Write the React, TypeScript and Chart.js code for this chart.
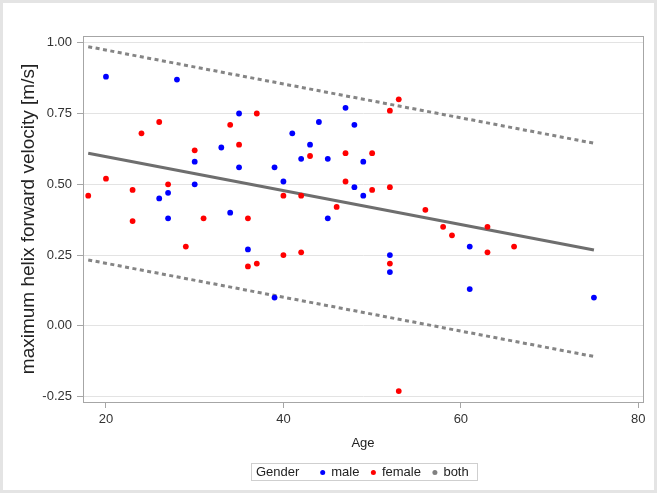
import React, { useEffect, useRef } from "react";
import { Chart, registerables } from "chart.js";

Chart.register(...registerables);

// ---- data ----
const maleAge = [20, 28, 35, 33, 30, 35, 30, 26, 27, 27, 34, 36, 39, 47, 44, 48, 41, 43, 42, 45, 49, 39, 40, 48, 49, 45, 52, 52, 61, 61, 75];
const maleVel = [0.88, 0.87, 0.75, 0.63, 0.58, 0.56, 0.50, 0.45, 0.47, 0.38, 0.40, 0.27, 0.10, 0.77, 0.72, 0.71, 0.68, 0.64, 0.59, 0.59, 0.58, 0.56, 0.51, 0.49, 0.46, 0.38, 0.25, 0.19, 0.28, 0.13, 0.10];

const femaleAge = [18, 20, 23, 23, 24, 26, 27, 29, 30, 31, 34, 35, 36, 36, 37, 37, 40, 40, 42, 42, 43, 46, 47, 47, 50, 50, 52, 52, 52, 53, 53, 56, 58, 59, 63, 63, 66];
const femaleVel = [0.46, 0.52, 0.48, 0.37, 0.68, 0.72, 0.50, 0.28, 0.62, 0.38, 0.71, 0.64, 0.38, 0.21, 0.75, 0.22, 0.46, 0.25, 0.46, 0.26, 0.60, 0.42, 0.61, 0.51, 0.61, 0.48, 0.76, 0.49, 0.22, 0.80, -0.23, 0.41, 0.35, 0.32, 0.35, 0.26, 0.28];

// regression (both genders) and prediction limits, at the line end ages
const fitAge = [18, 75];
const fitVel = [0.61, 0.268];
const upperVel = [0.986, 0.645];
const lowerVel = [0.233, -0.108];

const xTicks = [20, 40, 60, 80];
const yTicks = [-0.25, 0, 0.25, 0.5, 0.75, 1.0];
const yTickLabels = ["-0.25", "0.00", "0.25", "0.50", "0.75", "1.00"];

const legendTitle = "Gender";
const legendItems = [
  { label: "male", color: "#0000ff" },
  { label: "female", color: "#ff0000" },
  { label: "both", color: "#808080" },
];

const FONT = "'Liberation Sans', Arial, sans-serif";

const pts = (xs: number[], ys: number[]) => xs.map((x, i) => ({ x, y: ys[i] }));

export default function App() {
  const ref = useRef<HTMLCanvasElement | null>(null);

  useEffect(() => {
    if (!ref.current) return;

    const framePlugin = {
      id: "frame",
      beforeDraw(chart: any) {
        const { ctx, width, height } = chart;
        ctx.save();
        ctx.fillStyle = "#ffffff";
        ctx.fillRect(0, 0, width, height);
        ctx.restore();
      },
      afterDraw(chart: any) {
        const { ctx, width, height, chartArea } = chart;
        ctx.save();
        // outer light frame
        ctx.strokeStyle = "#e4e4e4";
        ctx.lineWidth = 3;
        ctx.strokeRect(1.5, 1.5, width - 3, height - 3);
        // plot box
        ctx.strokeStyle = "#a6a6a6";
        ctx.lineWidth = 1;
        ctx.strokeRect(
          Math.round(chartArea.left) + 0.5,
          Math.round(chartArea.top) + 0.5,
          Math.round(chartArea.right - chartArea.left),
          Math.round(chartArea.bottom - chartArea.top)
        );
        // legend
        const lx = 251, ly = 463, lw = 226, lh = 17;
        ctx.strokeStyle = "#cfcfcf";
        ctx.strokeRect(lx + 0.5, ly + 0.5, lw, lh);
        ctx.font = `13px ${FONT}`;
        ctx.fillStyle = "#222";
        ctx.textBaseline = "middle";
        ctx.textAlign = "left";
        const cy = ly + lh / 2 + 1;
        ctx.fillText(legendTitle, 256, cy);
        let x = 322.7;
        legendItems.forEach((it) => {
          ctx.beginPath();
          ctx.fillStyle = it.color;
          ctx.arc(x, cy, 2.5, 0, Math.PI * 2);
          ctx.fill();
          ctx.fillStyle = "#222";
          ctx.fillText(it.label, x + 8.5, cy);
          x += 8.5 + ctx.measureText(it.label).width + 14;
        });
        ctx.restore();
      },
    };

    const chart = new Chart(ref.current, {
      type: "scatter",
      data: {
        datasets: [
          {
            label: "male",
            data: pts(maleAge, maleVel),
            backgroundColor: "#0000ff",
            borderWidth: 0,
            pointRadius: 2.9,
          },
          {
            label: "female",
            data: pts(femaleAge, femaleVel),
            backgroundColor: "#ff0000",
            borderWidth: 0,
            pointRadius: 2.9,
          },
          {
            label: "fit",
            data: pts(fitAge, fitVel),
            showLine: true,
            borderColor: "#6e6e6e",
            borderWidth: 3,
            pointRadius: 0,
            fill: false,
          },
          {
            label: "upper",
            data: pts(fitAge, upperVel),
            showLine: true,
            borderColor: "#858585",
            borderWidth: 3,
            borderDash: [4, 3.5],
            pointRadius: 0,
            fill: false,
          },
          {
            label: "lower",
            data: pts(fitAge, lowerVel),
            showLine: true,
            borderColor: "#858585",
            borderWidth: 3,
            borderDash: [4, 3.5],
            pointRadius: 0,
            fill: false,
          },
        ],
      },
      options: {
        responsive: false,
        animation: false,
        devicePixelRatio: 1,
        layout: { padding: { left: 0, top: 36, right: 14, bottom: 0 } },
        plugins: {
          legend: { display: false },
          tooltip: { enabled: false },
        },
        scales: {
          x: {
            type: "linear",
            position: "bottom",
            min: 17.41,
            max: 80.53,
            afterBuildTicks: (s: any) => {
              s.ticks = xTicks.map((v) => ({ value: v }));
            },
            afterFit: (s: any) => {
              s.height = 91;
            },
            ticks: {
              font: { family: FONT, size: 13 },
              color: "#333",
              padding: 4,
              maxRotation: 0,
              autoSkip: false,
            },
            grid: {
              drawOnChartArea: false,
              drawTicks: true,
              tickLength: 6,
              tickColor: "#a6a6a6",
            },
            border: { display: true, color: "#a6a6a6" },
            title: {
              display: true,
              text: "Age",
              font: { family: FONT, size: 13 },
              color: "#222",
              padding: { top: 0, bottom: 42 },
            },
          },
          y: {
            type: "linear",
            position: "left",
            min: -0.2687,
            max: 1.0237,
            afterBuildTicks: (s: any) => {
              s.ticks = yTicks.map((v) => ({ value: v }));
            },
            afterFit: (s: any) => {
              s.width = 83;
            },
            ticks: {
              font: { family: FONT, size: 13 },
              color: "#333",
              padding: 5,
              callback: (v: any) => {
                const i = yTicks.findIndex((t) => Math.abs(t - Number(v)) < 1e-6);
                return i >= 0 ? yTickLabels[i] : "";
              },
            },
            grid: {
              color: "#e3e3e3",
              lineWidth: 1,
              drawTicks: true,
              tickLength: 6,
              tickColor: "#a6a6a6",
            },
            border: { display: true, color: "#a6a6a6" },
            title: {
              display: true,
              text: "maximum helix forward velocity [m/s]",
              font: { family: FONT, size: 19 },
              color: "#222",
              padding: { top: 17.6, bottom: 0 },
            },
          },
        },
      },
      plugins: [framePlugin],
    } as any);

    return () => chart.destroy();
  }, []);

  return (
    <div style={{ position: "fixed", left: 0, top: 0, width: 657, height: 493 }}>
      <canvas ref={ref} width={657} height={493} style={{ display: "block", width: 657, height: 493 }} />
    </div>
  );
}
